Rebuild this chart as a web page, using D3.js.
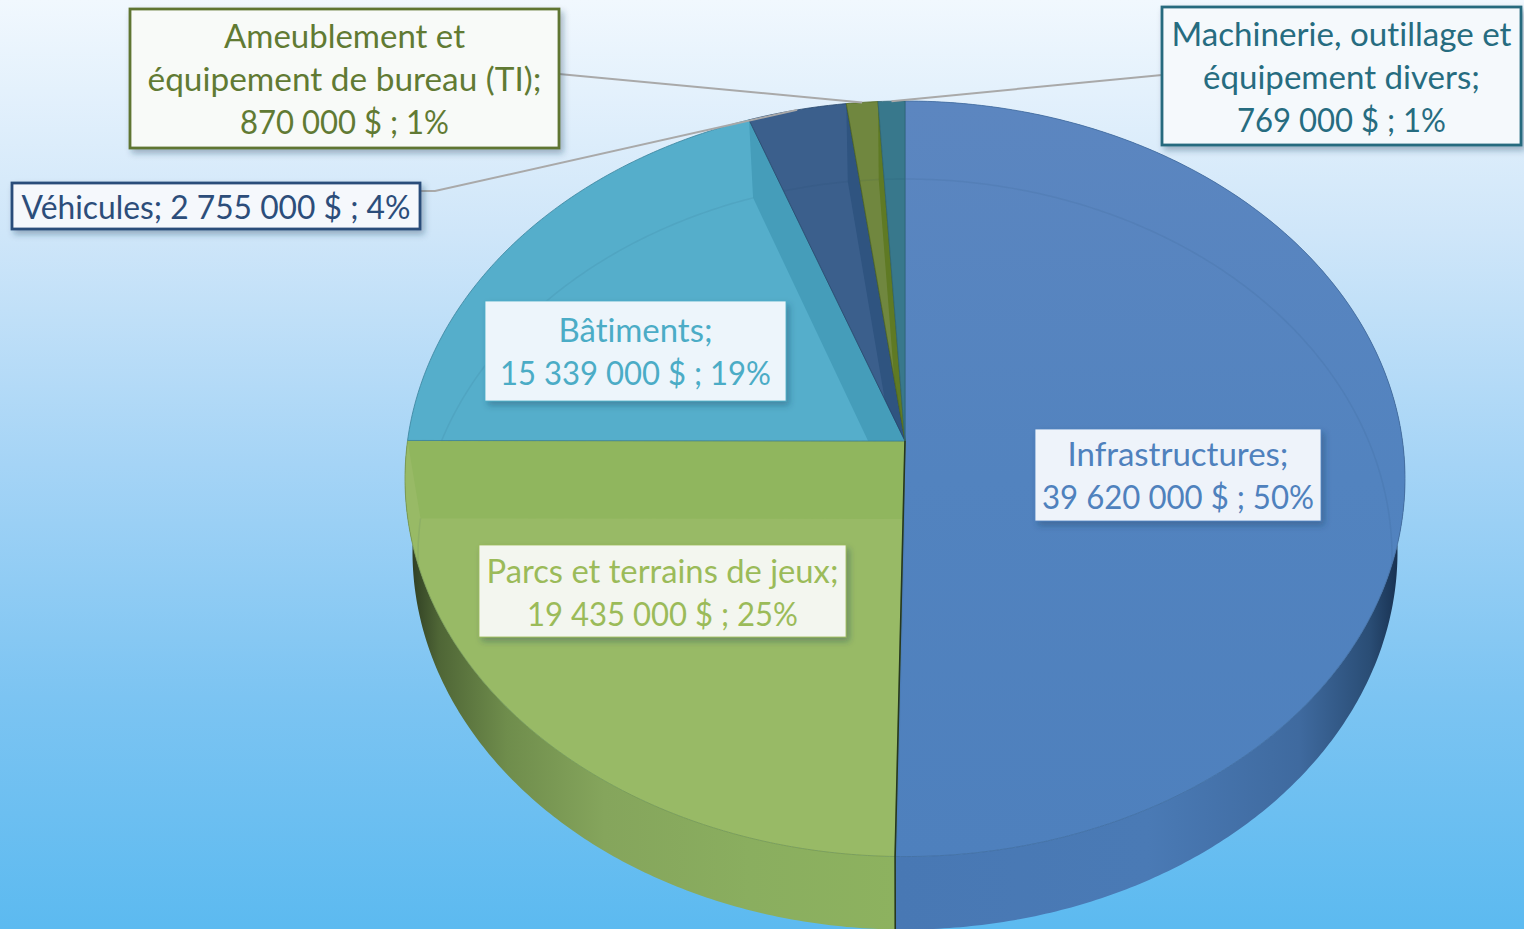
<!DOCTYPE html>
<html>
<head>
<meta charset="utf-8">
<script src="https://cdn.jsdelivr.net/npm/d3@7"></script>
<style>
  html, body { margin: 0; padding: 0; overflow: hidden; }
  svg { display: block; }
  text { font-family: Lato, "Open Sans", sans-serif; text-anchor: middle; font-variant-ligatures: none; }
</style>
</head>
<body>
<svg id="canvas" width="1524" height="929"></svg>
<script>
const categories = ['Infrastructures', 'Parcs et terrains de jeux', 'Bâtiments', 'Véhicules', 'Ameublement et équipement de bureau (TI)', 'Machinerie, outillage et équipement divers'];
const amounts = [39620000, 19435000, 15339000, 2755000, 870000, 769000];
const percentLabels = [50, 25, 19, 4, 1, 1];
// share of the circle measured on the picture, the printed percents are rounded
const sliceShares = [50.27, 24.73, 19.4, 3.5, 1.12, 0.95];

const settings = {
  width: 1524,
  height: 929,
  cx: 905, cy: 441, rx: 497.5, ry: 374, persp: 0.1,
  wallDrop: 73, wallScale: 0.985,
  innerDrop: 78, innerScale: 0.974,
};

// colours per slice: plate, darker facet along the clockwise edge, text, border (null = thin text colour), box fill
const styles = [
  { plate: 'url(#infraTop)', facet: '#4c7db8', text: '#4f81bd', border: null, box: '#eef3fa' },
  { plate: '#98ba66', facet: '#90b65e', text: '#9bbb59', border: null, box: '#f3f6ef' },
  { plate: '#55aecb', facet: '#459dba', text: '#4bacc6', border: null, box: '#edf5fb' },
  { plate: '#3b5f8c', facet: '#2f5480', text: '#2c4d7a', border: '#2c4d7a', box: '#f5f8fc' },
  { plate: '#70873f', facet: '#5f7a24', text: '#617a33', border: '#5f7530', box: '#f8faf8' },
  { plate: '#38788c', facet: '#38788c', text: '#266c80', border: '#256a7e', box: '#f5f9fc' },
];

// label boxes, first baseline and row widths, in page pixels
const boxes = [
  { x: 1035, y: 429, w: 286, h: 92, base: 466, lines: ['Infrastructures;'], widths: [221, 272] },
  { x: 479, y: 545, w: 367, h: 92, base: 583, lines: ['Parcs et terrains de jeux;'], widths: [352, 271] },
  { x: 485, y: 301, w: 301, h: 100, base: 342, lines: ['Bâtiments;'], widths: [154, 271] },
  { x: 12, y: 183, w: 408, h: 46, base: 219, lines: [], widths: [389], anchor: [420, 191], elbow: [435, 191] },
  { x: 130, y: 9, w: 429, h: 139, base: 48, lines: ['Ameublement et', 'équipement de bureau (TI);'], widths: [241, 394, 209], anchor: [559, 74] },
  { x: 1162, y: 7, w: 359, h: 138, base: 46, lines: ['Machinerie, outillage et', 'équipement divers;'], widths: [340, 277, 209], anchor: [1162, 75] },
];

const money = d3.formatLocale({ decimal: ',', thousands: ' ', grouping: [3], currency: ['', ' $'] }).format(',');

// angle clockwise from top -> point on the tilted disc
function project(a, drop = 0, scale = 1) {
  const u = Math.sin(a), v = -Math.cos(a), w = 1 - settings.persp * v;
  return [settings.cx + scale * settings.rx * u / w, settings.cy + drop + settings.ry * v / w];
}

function arcPoints(d, drop, scale) {
  const n = Math.max(4, Math.ceil((d.endAngle - d.startAngle) / 0.01));
  return d3.range(n + 1).map(i => project(d.startAngle + (d.endAngle - d.startAngle) * i / n, drop, scale));
}

const line = d3.line();
const sector = (d, drop = 0, scale = 1) => line([[settings.cx, settings.cy + drop], ...arcPoints(d, drop, scale)]) + 'Z';
const wall = d => {
  const top = arcPoints(d, 0, 1), low = arcPoints(d, settings.wallDrop, settings.wallScale);
  return line([...top, ...low.reverse()]) + 'Z';
};
// the band between a slice's edge and the same edge pushed down to the inner plate
const facet = d => line([
  [settings.cx, settings.cy],
  project(d.endAngle),
  project(d.endAngle, settings.innerDrop, settings.innerScale),
  [settings.cx, settings.cy + settings.innerDrop],
]) + 'Z';

function graph() {
  const svg = d3.select('#canvas');
  const defs = svg.append('defs');

  const gradient = (id, vertical, stops, extent) => {
    const g = defs.append('linearGradient').attr('id', id).attr('gradientUnits', 'userSpaceOnUse')
      .attr('x1', vertical ? 0 : extent[0]).attr('x2', vertical ? 0 : extent[1])
      .attr('y1', vertical ? extent[0] : 0).attr('y2', vertical ? extent[1] : 0);
    stops.forEach(s => g.append('stop').attr('offset', s[0]).attr('stop-color', s[1]));
  };
  gradient('bg', true, [[0, '#f1f8fe'], [0.25, '#cfe6f9'], [0.5, '#a5d4f6'], [0.75, '#7cc4f2'], [1, '#5cbaf0']], [0, 929]);
  gradient('infraTop', true, [[0, '#5c86c0'], [0.5, '#5283bf'], [1, '#4e80bd']], [101, 857]);
  gradient('wallGreen', false, [[0, '#2e3d22'], [0.06, '#4f6636'], [0.2, '#6f8d4c'], [0.4, '#85a55c'], [0.7, '#8aae5f'], [1, '#8db25f']], [410, 895]);
  gradient('wallBlue', false, [[0, '#4878b4'], [0.5, '#4a7ab5'], [0.8, '#3f6a9f'], [0.94, '#2a4d75'], [1, '#17304f']], [895, 1400]);

  const shadow = defs.append('filter').attr('id', 'shadow')
    .attr('x', '-10%').attr('y', '-20%').attr('width', '120%').attr('height', '150%');
  shadow.append('feDropShadow').attr('dx', 3).attr('dy', 4).attr('stdDeviation', 3)
    .attr('flood-color', '#1f3a5a').attr('flood-opacity', 0.35);

  svg.append('rect').attr('width', settings.width).attr('height', settings.height).attr('fill', 'url(#bg)');

  const slices = d3.pie().sort(null).value(d => d)(sliceShares);

  slices.forEach((d, i) => {
    defs.append('clipPath').attr('id', `clip${i}`).append('path').attr('d', sector(d));
  });

  // side wall first, the top disc covers what is behind it
  svg.append('g').selectAll('path')
    .data(slices.slice(0, 2))
    .join('path')
    .attr('d', wall)
    .attr('fill', (d, i) => i === 0 ? 'url(#wallBlue)' : 'url(#wallGreen)');

  const tops = svg.append('g').selectAll('g').data(slices).join('g');
  tops.append('path')
    .attr('d', d => sector(d))
    .attr('fill', (d, i) => styles[i].plate);
  tops.append('path')
    .attr('clip-path', (d, i) => `url(#clip${i})`)
    .attr('d', facet)
    .attr('fill', (d, i) => styles[i].facet);
  // faint rim of the inner plate
  tops.append('path')
    .attr('clip-path', (d, i) => `url(#clip${i})`)
    .attr('d', d => line(arcPoints(d, settings.innerDrop, settings.innerScale)))
    .attr('fill', 'none')
    .attr('stroke', '#1f3a5a').attr('stroke-opacity', 0.08).attr('stroke-width', 1.5);
  tops.append('path')
    .attr('d', d => sector(d))
    .attr('fill', 'none')
    .attr('stroke', (d, i) => d3.color(i === 0 ? '#4f81bd' : styles[i].facet).darker(0.5))
    .attr('stroke-width', 0.8);

  // dark seam between the two big slices
  const seam = slices[0].endAngle;
  svg.append('path')
    .attr('d', line([[settings.cx, settings.cy], project(seam), project(seam, settings.wallDrop, settings.wallScale)]))
    .attr('fill', 'none').attr('stroke', '#26381f').attr('stroke-width', 1.6);

  // leader lines run to the middle of the thin slices
  const leaders = slices.map((d, i) => ({ d, box: boxes[i] })).filter(l => l.box.anchor);
  svg.append('g').selectAll('path')
    .data(leaders)
    .join('path')
    .attr('d', l => line([l.box.anchor, ...(l.box.elbow ? [l.box.elbow] : []), project((l.d.startAngle + l.d.endAngle) / 2)]))
    .attr('fill', 'none').attr('stroke', '#a9a9a9').attr('stroke-width', 2);

  const labels = svg.append('g').selectAll('g').data(boxes).join('g');
  labels.append('rect')
    .attr('x', b => b.x).attr('y', b => b.y).attr('width', b => b.w).attr('height', b => b.h)
    .attr('fill', (b, i) => styles[i].box)
    .attr('stroke', (b, i) => styles[i].border || styles[i].text)
    .attr('stroke-width', (b, i) => styles[i].border ? 2.8 : 0.8)
    .attr('filter', 'url(#shadow)');
  labels.each(function(b, i) {
    const tail = `${money(amounts[i])} $ ; ${percentLabels[i]}%`;
    const rows = b.lines.length ? [...b.lines, tail] : [`${categories[i]}; ${tail}`];
    d3.select(this).selectAll('text').data(rows).join('text')
      .attr('x', b.x + b.w / 2)
      .attr('y', (r, j) => b.base + j * 43)
      .attr('font-size', 33)
      .attr('textLength', (r, j) => b.widths[j])
      .attr('lengthAdjust', 'spacingAndGlyphs')
      .attr('fill', styles[i].text)
      .text(r => r);
  });
}

window.addEventListener('DOMContentLoaded', () => graph());
</script>
</body>
</html>
